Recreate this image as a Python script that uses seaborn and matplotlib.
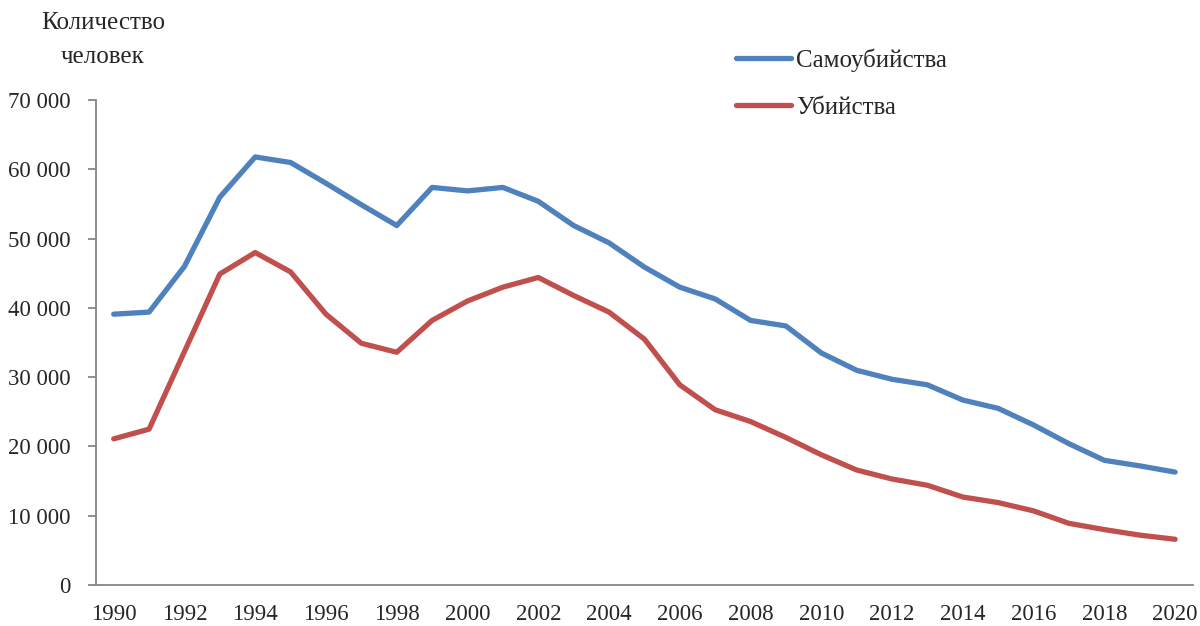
import pandas as pd
import matplotlib
matplotlib.use("Agg")
import matplotlib.pyplot as plt
import seaborn as sns
from matplotlib.ticker import FuncFormatter, FixedLocator

years = list(range(1990, 2021))
samoubiystva = [39100, 39400, 46000, 56000, 61800, 61000, 58000, 54900, 51900, 57400,
                56900, 57400, 55400, 51900, 49400, 45900, 43000, 41300, 38200, 37400,
                33500, 31000, 29700, 28900, 26700, 25500, 23100, 20400, 18000, 17200,
                16300]
ubiystva = [21100, 22500, 33700, 44900, 48000, 45200, 39100, 34900, 33600, 38200,
            41000, 43000, 44400, 41800, 39400, 35500, 28900, 25300, 23600, 21300,
            18800, 16600, 15300, 14400, 12700, 11900, 10700, 8900, 8000, 7200,
            6600]
series_names = ["Самоубийства", "Убийства"]
colors = ["#4F81BD", "#C0504D"]

df = pd.DataFrame({
    "Год": years * 2,
    "Количество": samoubiystva + ubiystva,
    "Серия": [series_names[0]] * len(years) + [series_names[1]] * len(years),
})

sns.set_style("white")
plt.rcParams["font.family"] = ["Liberation Serif", "DejaVu Serif"]
plt.rcParams["font.size"] = 16.5

fig = plt.figure(figsize=(12, 6.26), dpi=100)
ax = fig.add_axes([0.08, 0.0655, 0.914, 0.7745])

sns.lineplot(data=df, x="Год", y="Количество", hue="Серия", palette=colors,
             linewidth=3.8, ax=ax, legend=False, solid_capstyle="round")

ax.set_xlim(1989.5, 2020.5)
ax.set_ylim(0, 70000)
ax.set_yticks(range(0, 70001, 10000))
ax.yaxis.set_major_formatter(FuncFormatter(lambda v, p: f"{int(v):,}".replace(",", " ")))

ax.set_xticks(years[::2])
ax.set_xticklabels([str(y) for y in years[::2]])
ax.xaxis.set_minor_locator(FixedLocator([y - 0.5 for y in years[::2]]))
ax.tick_params(axis="x", which="major", length=0, pad=14, labelsize=16.5)
ax.tick_params(axis="x", which="minor", length=6, width=1.3, color="#868686", direction="out")
ax.tick_params(axis="y", which="major", length=6, width=1.3, color="#868686", direction="out",
               pad=12, labelsize=16.5, left=True)

for s in ["top", "right"]:
    ax.spines[s].set_visible(False)
for s in ["left", "bottom"]:
    ax.spines[s].set_color("#868686")
    ax.spines[s].set_linewidth(1.3)

ax.set_xlabel("")
ax.set_ylabel("")

fig.text(103 / 1200, 1 - 23 / 626, "Количество", ha="center", va="center", fontsize=18)
fig.text(103 / 1200, 1 - 57 / 626, "человек", ha="center", va="center", fontsize=18)

handles = [plt.Line2D([], [], color=c, linewidth=3.8, solid_capstyle="round") for c in colors]
fig.legend(handles, series_names, loc="upper left", bbox_to_anchor=(736 / 1200, 1 - 48 / 626),
           frameon=False, handlelength=2.2, handletextpad=0.2, labelspacing=1.0,
           borderpad=0, borderaxespad=0, fontsize=18)

plt.savefig("out.png", dpi=100)
plt.close()
